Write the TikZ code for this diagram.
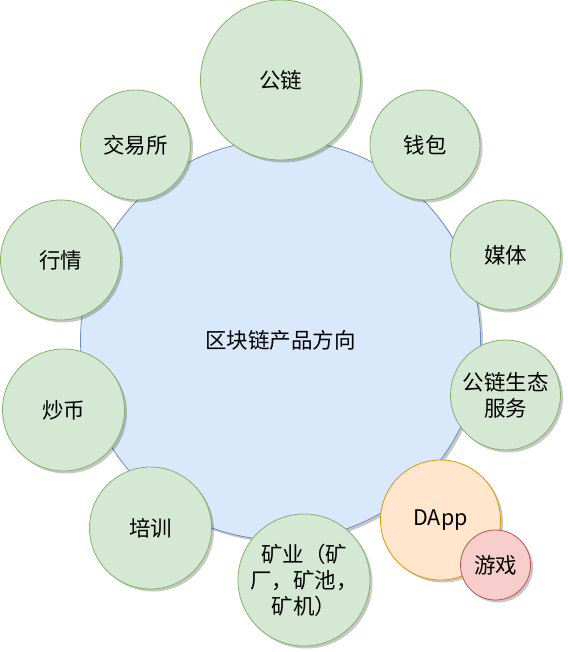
\documentclass[tikz,border=0pt]{standalone}
\usepackage{fontspec}
\setmainfont{Noto Sans CJK SC}
\usetikzlibrary{shadows}
\definecolor{gfill}{HTML}{D5E8D4}
\definecolor{gline}{HTML}{82B366}
\definecolor{bfill}{HTML}{DAE8FC}
\definecolor{bline}{HTML}{6C8EBF}
\definecolor{ofill}{HTML}{FFE6CC}
\definecolor{oline}{HTML}{D79B00}
\definecolor{rfill}{HTML}{F8CECC}
\definecolor{rline}{HTML}{B85450}
\begin{document}
\begin{tikzpicture}[x=1pt,y=-1pt,
  bub/.style={circle, draw, line width=0.8pt, inner sep=0pt, align=center,
    font=\fontsize{21.5}{26}\selectfont,
    drop shadow={shadow xshift=2.5pt, shadow yshift=-2.5pt, opacity=0.22, fill=black}},
  gbub/.style={bub, fill=gfill, draw=gline},
  bbub/.style={bub, fill=bfill, draw=bline},
  obub/.style={bub, fill=ofill, draw=oline},
  rbub/.style={bub, fill=rfill, draw=rline}]
\useasboundingbox (0,0) rectangle (567,652);
\node[bbub, minimum size=400pt] (core) at (280.5,340) {区块链产品方向};
\node[gbub, minimum size=160pt] (gonglian) at (280.5,80) {公链};
\node[gbub, minimum size=110pt] (jys) at (135.5,145) {交易所};
\node[gbub, minimum size=110pt] (qb) at (425,145) {钱包};
\node[gbub, minimum size=120pt] (hq) at (60.5,260) {行情};
\node[gbub, minimum size=110pt] (mt) at (505.5,255) {媒体};
\node[gbub, minimum size=122pt] (cb) at (63.5,410) {炒币};
\node[gbub, minimum size=110pt] (stfw) at (505.5,395) {公链生态\\服务};
\node[gbub, minimum size=122pt] (px) at (150.5,528) {培训};
\node[gbub, minimum size=132pt] (ky) at (304,580) {矿业（矿\\厂，矿池，\\矿机）};
\node[obub, minimum size=120pt] (dapp) at (440.5,520) {DApp};
\node[rbub, minimum size=70pt] (yx) at (495.5,565) {游戏};
\end{tikzpicture}
\end{document}
